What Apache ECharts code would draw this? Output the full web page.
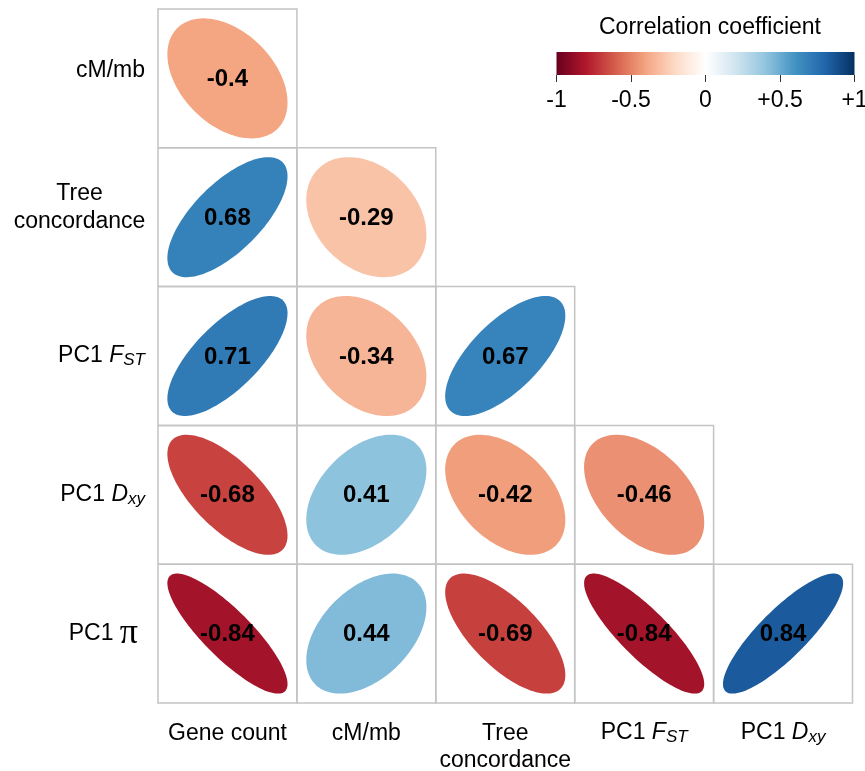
<!DOCTYPE html>
<html><head><meta charset="utf-8">
<script src="https://cdn.jsdelivr.net/npm/echarts@6/dist/echarts.min.js"></script>
<style>html,body{margin:0;padding:0;background:#fff}#c{width:865px;height:771px}</style>
</head><body><div id="c"></div>
<script>
// ---- data ----
const colLabels = ['Gene count', 'cM/mb', 'Tree concordance', 'PC1 FST', 'PC1 Dxy'];
const rowLabels = ['cM/mb', 'Tree concordance', 'PC1 FST', 'PC1 Dxy', 'PC1 π'];
const corrRow0 = [-0.4];
const corrRow1 = [0.68, -0.29];
const corrRow2 = [0.71, -0.34, 0.67];
const corrRow3 = [-0.68, 0.41, -0.42, -0.46];
const corrRow4 = [-0.84, 0.44, -0.69, -0.84, 0.84];
const legendTitle = 'Correlation coefficient';
const legendTicks = [-1, -0.5, 0, 0.5, 1];
const legendTickLabels = ['-1', '-0.5', '0', '+0.5', '+1'];
const palette = ['#67001F', '#B2182B', '#D6604D', '#F4A582', '#FDDBC7', '#FFFFFF',
                 '#D1E5F0', '#92C5DE', '#4393C3', '#2166AC', '#053061'];

const FONT = '"Liberation Sans", Arial, Helvetica, sans-serif';
const corrRows = [corrRow0, corrRow1, corrRow2, corrRow3, corrRow4];
const cellData = [];
corrRows.forEach((row, r) => row.forEach((v, c) => cellData.push([c, r, v])));

function hex2rgb(h) { return [parseInt(h.slice(1, 3), 16), parseInt(h.slice(3, 5), 16), parseInt(h.slice(5, 7), 16)]; }
function colorFor(v) {
  const t = (v + 1) / 2 * (palette.length - 1);
  const i = Math.min(Math.floor(t), palette.length - 2);
  const f = t - i;
  const a = hex2rgb(palette[i]), b = hex2rgb(palette[i + 1]);
  const m = a.map((x, k) => Math.round(x + (b[k] - x) * f));
  return 'rgb(' + m.join(',') + ')';
}

function renderCell(params, api) {
  const c = api.value(0), r = api.value(1), v = api.value(2);
  const ctr = api.coord([c, r]);
  const sz = api.size([1, 1]);
  const w = sz[0], h = sz[1];
  const d = Math.acos(v);
  const sx = w * 0.4325, sy = h * 0.4325;
  const pts = [];
  for (let i = 0; i < 120; i++) {
    const k = 2 * Math.PI * i / 120;
    pts.push([ctr[0] + sx * Math.cos(k + d / 2), ctr[1] - sy * Math.cos(k - d / 2)]);
  }
  return {
    type: 'group',
    children: [
      { type: 'rect', shape: { x: ctr[0] - w / 2, y: ctr[1] - h / 2, width: w, height: h },
        style: { fill: 'none', stroke: '#C4C4C4', lineWidth: 1.5 } },
      { type: 'polygon', shape: { points: pts }, style: { fill: colorFor(v) } },
      { type: 'text', style: { text: String(v), x: ctr[0], y: ctr[1] + 1,
          align: 'center', verticalAlign: 'middle', textAlign: 'center', textVerticalAlign: 'middle',
          font: 'bold 24px ' + FONT, fill: '#000' } }
    ]
  };
}

function renderLegend(params, api) {
  const p0 = api.coord([api.value(0), api.value(2)]);
  const p1 = api.coord([api.value(1), api.value(3)]);
  const stops = palette.map((col, i) => ({ offset: i / (palette.length - 1), color: col }));
  return {
    type: 'rect',
    shape: { x: p0[0], y: p1[1], width: p1[0] - p0[0], height: p0[1] - p1[1] },
    style: { fill: new echarts.graphic.LinearGradient(0, 0, 1, 0, stops) }
  };
}

function fmtX(s) {
  if (s === 'Tree concordance') return 'Tree\nconcordance';
  if (s === 'PC1 FST') return '{n|PC1 }{i|F}{s|ST}';
  if (s === 'PC1 Dxy') return '{n|PC1 }{i|D}{s|xy}';
  return s;
}
function fmtY(s) {
  if (s === 'cM/mb') return '{up|cM/mb}';
  if (s === 'Tree concordance') return '{c|Tree}\n{c|concordance}\n{e| }';
  if (s === 'PC1 FST') return '{n|PC1 }{i|F}{s|ST}';
  if (s === 'PC1 Dxy') return '{n|PC1 }{i|D}{s|xy}';
  if (s === 'PC1 π') return '{n|PC1 }{p|π}';
  return s;
}
const richCommon = {
  n: { fontSize: 23, lineHeight: 26, fontFamily: FONT, color: '#000' },
  i: { fontSize: 23, lineHeight: 26, fontStyle: 'italic', fontFamily: FONT, color: '#000' },
  s: { fontSize: 17, lineHeight: 13, fontStyle: 'italic', verticalAlign: 'bottom', fontFamily: FONT, color: '#000' },
  up: { fontSize: 23, lineHeight: 26, padding: [0, 0, 16, 0], fontFamily: FONT, color: '#000' },
  c: { fontSize: 23, lineHeight: 28, width: 131, align: 'center', fontFamily: FONT, color: '#000' },
  e: { fontSize: 10, lineHeight: 20, fontFamily: FONT, color: '#000' },
  p: { fontSize: 36, lineHeight: 26, padding: [0, 7, 0, 0], fontFamily: '"Liberation Serif", "DejaVu Serif", serif', color: '#000' }
};

const chart = echarts.init(document.getElementById('c'), null, { renderer: 'canvas' });
chart.setOption({
  backgroundColor: '#fff',
  animation: false,
  title: {
    text: legendTitle, left: 705, top: 11, textAlign: 'center',
    textStyle: { fontSize: 23, fontWeight: 'normal', color: '#000', fontFamily: FONT }
  },
  grid: [
    { left: 158, top: 9, width: 694.5, height: 694, outerBoundsMode: 'none', containLabel: false },
    { left: 556.5, top: 52, width: 298, height: 23, outerBoundsMode: 'none', containLabel: false }
  ],
  xAxis: [
    { gridIndex: 0, type: 'category', data: colLabels, position: 'bottom',
      axisLine: { show: false }, axisTick: { show: false }, splitLine: { show: false },
      axisLabel: { interval: 0, formatter: fmtX, margin: 17, fontSize: 23, lineHeight: 27,
        color: '#000', fontFamily: FONT, rich: richCommon } },
    { gridIndex: 1, type: 'value', min: -1, max: 1, interval: 0.5, position: 'bottom',
      axisLine: { show: false }, splitLine: { show: false },
      axisTick: { show: true, length: 7, lineStyle: { color: '#333', width: 1 } },
      axisLabel: { margin: 14, fontSize: 23, color: '#000', fontFamily: FONT,
        formatter: v => { const i = legendTicks.indexOf(v); return i >= 0 ? legendTickLabels[i] : ''; } } }
  ],
  yAxis: [
    { gridIndex: 0, type: 'category', data: rowLabels, inverse: true,
      axisLine: { show: false }, axisTick: { show: false }, splitLine: { show: false },
      axisLabel: { interval: 0, formatter: fmtY, margin: 13, fontSize: 23, color: '#000',
        fontFamily: FONT, rich: richCommon } },
    { gridIndex: 1, type: 'value', min: 0, max: 1, show: false }
  ],
  series: [
    { type: 'custom', xAxisIndex: 0, yAxisIndex: 0, renderItem: renderCell, data: cellData,
      encode: { x: 0, y: 1 }, silent: true },
    { type: 'custom', xAxisIndex: 1, yAxisIndex: 1, renderItem: renderLegend,
      data: [[-1, 1, 0, 1]], encode: { x: [0, 1], y: [2, 3] }, silent: true }
  ]
});
</script></body></html>
